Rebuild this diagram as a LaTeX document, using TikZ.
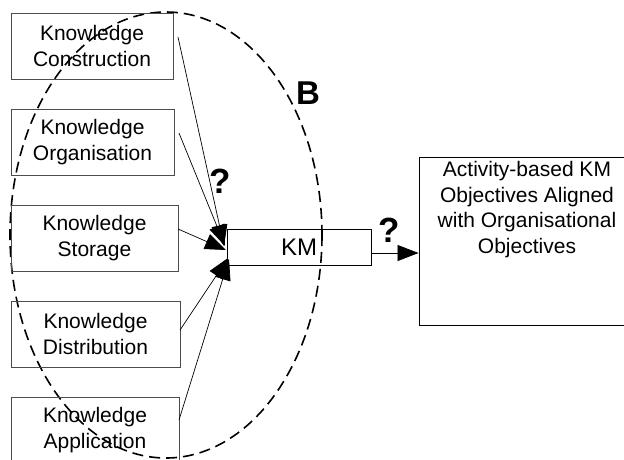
\documentclass[tikz,border=0pt]{standalone}
\usepackage{fontspec}
\setmainfont{Liberation Sans}
\usetikzlibrary{arrows.meta,calc}
\begin{document}
\begin{tikzpicture}[x=1pt,y=-1pt,
  kbox/.style={draw=black!70,line width=0.9pt,rectangle,inner sep=0pt,align=center,
    font=\fontsize{21}{26}\selectfont,minimum height=66pt},
  kmbox/.style={draw=black,line width=0.9pt,rectangle,inner sep=0pt,
    font=\fontsize{24}{26}\selectfont,minimum width=144pt,minimum height=36pt},
  objbox/.style={draw=black,line width=0.9pt,rectangle,inner sep=0pt,
    minimum width=216pt,minimum height=168pt},
  objtext/.style={align=center,font=\fontsize{21}{25.5}\selectfont,inner sep=0pt},
  conn/.style={line width=0.7pt,-{Triangle[length=21pt,width=16pt]}},
  qmark/.style={font=\bfseries\fontsize{35}{36}\selectfont,inner sep=0pt}
]
\useasboundingbox (0,0) rectangle (624,459);
% dashed ellipse
\draw[dash pattern=on 11pt off 6pt,line width=1.6pt] (166,235) ellipse [x radius=156, y radius=223];
% left boxes
\node[kbox,minimum width=162pt] (C) at (92,46) {Knowledge\\Construction};
\node[kbox,minimum width=163pt] (O) at (92.5,142) {Knowledge\\Organisation};
\node[kbox,minimum width=167pt] (S) at (94.5,238) {Knowledge\\Storage};
\node[kbox,minimum width=169pt] (D) at (95.5,334) {Knowledge\\Distribution};
\node[kbox,minimum width=168pt] (A) at (95,430) {Knowledge\\Application};
% KM box
\node[kmbox] (KM) at (299,247) {KM};
% objectives box
\node[objbox] (OB) at (527,241) {};
\node[objtext,anchor=north] (OBT) at ($(OB.north)+(0,5)$) {Activity-based KM\\Objectives Aligned\\with Organisational\\Objectives};
% connector coordinates
\coordinate (cs) at (178,37);
\coordinate (os) at (179,133);
\coordinate (ss) at (178,229);
\coordinate (ds) at (180,330);
\coordinate (as) at (179,420);
\coordinate (ce) at (224,246);
\coordinate (oe) at (225,246);
\coordinate (se) at (226,250);
\coordinate (de) at (228,258);
\coordinate (ae) at (229,259);
\draw[conn] (cs) -- (ce);
\draw[conn] (os) -- (oe);
\draw[conn] (ss) -- (se);
\draw[conn] (ds) -- (de);
\draw[conn] (as) -- (ae);
% KM -> objectives
\draw[conn] ($(KM.east)+(0,6)$) -- ($(OB.west)+(0,12)$);
% labels
\node[font=\bfseries\fontsize{33}{34}\selectfont,inner sep=0pt] (B) at (308,93) {B};
\node[qmark] (Q1) at (220,181) {?};
\node[qmark] (Q2) at (389.5,230.5) {?};
\end{tikzpicture}
\end{document}
